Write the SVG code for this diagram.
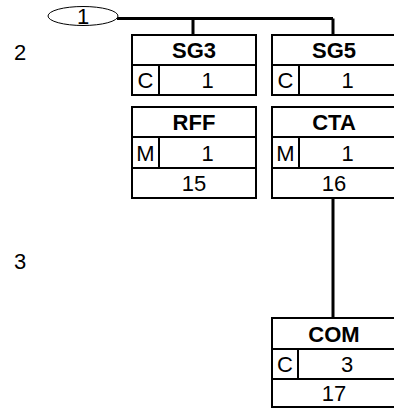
<svg xmlns="http://www.w3.org/2000/svg" width="394" height="408" viewBox="0 0 394 408">
<style>
text{font-family:"Liberation Sans",Arial,sans-serif;font-size:22px;fill:#000;text-anchor:middle}
.b{font-weight:bold}
.box{fill:#fff;stroke:#000;stroke-width:2}
.ln{stroke:#000;stroke-width:2;fill:none}
.con{stroke:#000;stroke-width:3;fill:none}
</style>
<rect x="0" y="0" width="394" height="408" fill="#fff"/>
<g id="connectors">
<path class="con" d="M117 18.5H333M193 18.5V35M333 18.5V35M333 198V318"/>
</g>
<g id="root">
<ellipse cx="83" cy="16" rx="35" ry="9.5" fill="#fff" stroke="#000" stroke-width="1"/>
<text x="83" y="24">1</text>
</g>
<g id="level2"><text x="20" y="60">2</text></g>
<g id="level3"><text x="20" y="269">3</text></g>
<g id="SG3">
<rect class="box" x="132" y="35" width="124" height="60"/>
<path class="ln" d="M132 65H256M159 65V95"/>
<text class="b" x="194" y="58">SG3</text>
<text x="145.5" y="88">C</text>
<text x="207.5" y="88">1</text>
</g>
<g id="SG5">
<rect class="box" x="272" y="35" width="124" height="60"/>
<path class="ln" d="M272 65H396M299 65V95"/>
<text class="b" x="334" y="58">SG5</text>
<text x="285.5" y="88">C</text>
<text x="347.5" y="88">1</text>
</g>
<g id="RFF">
<rect class="box" x="132" y="107" width="124" height="91"/>
<path class="ln" d="M132 137H256M132 168H256M159 137V168"/>
<text class="b" x="194" y="130">RFF</text>
<text x="145.5" y="160.5">M</text>
<text x="207.5" y="160.5">1</text>
<text x="194" y="191">15</text>
</g>
<g id="CTA">
<rect class="box" x="272" y="107" width="124" height="91"/>
<path class="ln" d="M272 137H396M272 168H396M299 137V168"/>
<text class="b" x="334" y="130">CTA</text>
<text x="285.5" y="160.5">M</text>
<text x="347.5" y="160.5">1</text>
<text x="334" y="191">16</text>
</g>
<g id="COM">
<rect class="box" x="272" y="318" width="124" height="89"/>
<path class="ln" d="M272 349H396M272 379H396M298 349V379"/>
<text class="b" x="334" y="341.5">COM</text>
<text x="285" y="372">C</text>
<text x="347" y="372">3</text>
<text x="334" y="401">17</text>
</g>
</svg>
